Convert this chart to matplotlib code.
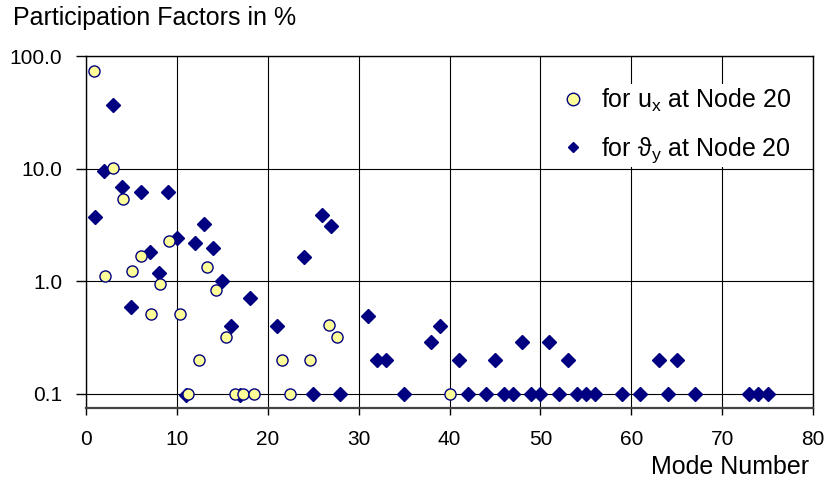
import matplotlib.pyplot as plt
from matplotlib.lines import Line2D
from matplotlib.ticker import FixedLocator, FuncFormatter, NullLocator

plt.rcParams['font.family'] = ['Liberation Sans', 'DejaVu Sans']
plt.rcParams['mathtext.fontset'] = 'custom'
plt.rcParams['mathtext.rm'] = 'Liberation Sans'
plt.rcParams['mathtext.fallback'] = 'stixsans'

# participation of u_x at node 20 (mode, percent)
ux_modes = [0.9, 2.1, 3.0, 4.1, 5.1, 6.1, 7.2, 8.1, 9.1, 10.3, 11.2, 12.4,
            13.3, 14.3, 15.4, 16.4, 17.3, 18.5, 21.6, 22.5, 24.6, 26.7,
            27.6, 40.0]
ux_pf = [74, 1.12, 10.1, 5.4, 1.23, 1.67, 0.51, 0.95, 2.26, 0.51, 0.1, 0.2,
         1.34, 0.83, 0.32, 0.1, 0.1, 0.1, 0.2, 0.1, 0.2, 0.41, 0.32, 0.1]

# participation of theta_y at node 20
ty_modes = [1, 2, 3, 4, 5, 6, 7, 8, 9, 10, 11, 12, 13, 14, 15, 16, 17, 18,
            21, 24, 25, 26, 27, 28, 31, 32, 33, 35, 38, 39, 41, 42, 44, 45,
            46, 47, 48, 49, 50, 51, 52, 53, 54, 55, 56, 59, 61, 63, 64, 65,
            67, 73, 74, 75]
ty_pf = [3.7, 9.6, 36.7, 6.9, 0.59, 6.2, 1.83, 1.19, 6.2, 2.4, 0.097, 2.17,
         3.2, 1.96, 1.0, 0.4, 0.097, 0.71, 0.4, 1.65, 0.1, 3.9, 3.1, 0.1,
         0.49, 0.2, 0.2, 0.1, 0.29, 0.4, 0.2, 0.1, 0.1, 0.2, 0.1, 0.1, 0.29,
         0.1, 0.1, 0.29, 0.1, 0.2, 0.1, 0.1, 0.1, 0.1, 0.1, 0.2, 0.1, 0.2,
         0.1, 0.1, 0.1, 0.1]

y_ticks = [0.1, 1, 10, 100]
x_ticks = [0, 10, 20, 30, 40, 50, 60, 70, 80]

navy = '#000080'
yellow = '#FFFF99'

fig = plt.figure(figsize=(8.27, 4.83), dpi=100)
ax = fig.add_axes([86/827, 1-408/483, 727/827, 352/483])

ax.plot(ty_modes, ty_pf, ls='none', marker='D', ms=7.5, color=navy,
        zorder=3, clip_on=False)
ax.plot(ux_modes, ux_pf, ls='none', marker='o', ms=8, mfc=yellow, mec=navy,
        mew=1, zorder=4, clip_on=False)

ax.set_yscale('log')
ax.set_ylim(0.075, 100)
ax.set_xlim(0, 80)
ax.yaxis.set_major_locator(FixedLocator(y_ticks))
ax.yaxis.set_minor_locator(NullLocator())
ax.yaxis.set_major_formatter(FuncFormatter(lambda v, p: '%.1f' % v))
ax.xaxis.set_major_locator(FixedLocator(x_ticks))

ax.grid(True, color='black', lw=0.8)
ax.set_axisbelow(True)
for s in ax.spines.values():
    s.set_color('black')
    s.set_linewidth(1.0)
ax.spines['bottom'].set_color('#444444')
ax.spines['bottom'].set_linewidth(1.6)

ax.tick_params(axis='x', direction='out', length=5, width=1, labelsize=15, pad=11)
ax.tick_params(axis='y', direction='out', length=7, width=1, labelsize=15, pad=10)

fig.text(13/827, 1-18/483, 'Participation Factors in %', fontsize=18,
         ha='left', va='center')
fig.text(809/827, 1-467/483, 'Mode Number', fontsize=18, ha='right',
         va='center')

handles = [
    Line2D([], [], ls='none', marker='o', ms=9, mfc=yellow, mec=navy, mew=1),
    Line2D([], [], ls='none', marker='D', ms=5.5, color=navy),
]
labels = [r'for u$_\mathrm{x}$ at Node 20', r'for $\mathrm{\vartheta}_\mathrm{y}$ at Node 20']
leg = ax.legend(handles, labels, loc='upper right', fontsize=18,
                bbox_to_anchor=(0.99, 0.956), frameon=True, fancybox=False,
                framealpha=1, edgecolor='none', facecolor='white',
                handletextpad=0.5, labelspacing=0.85, borderpad=0.1,
                handlelength=1.2)

fig.savefig('out.png', dpi=100)
